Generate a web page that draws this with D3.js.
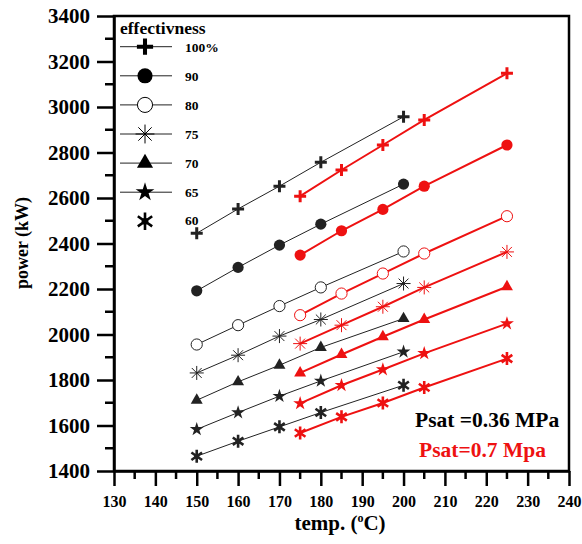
<!DOCTYPE html>
<html>
<head>
<meta charset="utf-8">
<script src="https://cdn.jsdelivr.net/npm/d3@7"></script>
<style>
  html, body { margin: 0; padding: 0; background: #fff; }
  svg text { font-family: "Liberation Serif", "Times New Roman", serif; font-weight: bold; }
</style>
</head>
<body>
<svg id="chart" width="582" height="544"></svg>
<script>
// ---- data ----
const tempLow = [150, 160, 170, 180, 200];      // Psat = 0.36 MPa
const tempHigh = [175, 185, 195, 205, 225];     // Psat = 0.7 MPa
const effLabels = ["100%", "90", "80", "75", "70", "65", "60"];
const markerKinds = ["plus", "dot", "ring", "aster", "tri", "star", "boldaster"];

const low100 = [2445, 2552, 2652, 2757, 2957];
const low90  = [2192, 2295, 2393, 2485, 2661];
const low80  = [1956, 2041, 2125, 2207, 2365];
const low75  = [1831, 1909, 1993, 2066, 2224];
const low70  = [1711, 1792, 1865, 1943, 2070];
const low65  = [1583, 1657, 1729, 1796, 1924];
const low60  = [1465, 1531, 1594, 1657, 1777];

const high100 = [2608, 2723, 2833, 2943, 3148];
const high90  = [2349, 2456, 2550, 2652, 2833];
const high80  = [2085, 2180, 2268, 2356, 2520];
const high75  = [1960, 2041, 2122, 2207, 2363];
const high70  = [1831, 1912, 1990, 2066, 2210];
const high65  = [1697, 1777, 1846, 1917, 2048];
const high60  = [1567, 1638, 1699, 1767, 1894];

const xTicks = [130, 140, 150, 160, 170, 180, 190, 200, 210, 220, 230, 240];
const xMinor = [135, 145, 155, 165, 175, 185, 195, 205, 215, 225, 235];
const yTicks = [1400, 1600, 1800, 2000, 2200, 2400, 2600, 2800, 3000, 3200, 3400];
const yMinor = [1500, 1700, 1900, 2100, 2300, 2500, 2700, 2900, 3100, 3300];

const lowSeries = [low100, low90, low80, low75, low70, low65, low60];
const highSeries = [high100, high90, high80, high75, high70, high65, high60];

// ---- layout ----
const L = 114, R = 569, T = 16, B = 471;
const RED = "#ee1111";
const svg = d3.select("#chart");
const x = d3.scaleLinear().domain([130, 240]).range([L, R]);
const y = d3.scaleLinear().domain([1400, 3400]).range([B, T]);

function drawMarker(g, kind, color, s) {
  if (kind === "plus") {
    const a = 6 * s;
    g.append("path").attr("d", `M${-a},0H${a}M0,${-a}V${a}`)
      .attr("stroke", color).attr("stroke-width", 3 * s).attr("fill", "none");
  } else if (kind === "dot") {
    g.append("circle").attr("r", 5.6 * s).attr("fill", color);
  } else if (kind === "ring") {
    g.append("circle").attr("r", 5.6 * s).attr("fill", "#fff")
      .attr("stroke", color).attr("stroke-width", 1);
  } else if (kind === "aster") {
    const a = 7 * s;
    let d = "";
    [0, 45, 90, 135].forEach(deg => {
      const r = deg * Math.PI / 180;
      d += `M${-a * Math.cos(r)},${-a * Math.sin(r)}L${a * Math.cos(r)},${a * Math.sin(r)}`;
    });
    g.append("path").attr("d", d).attr("stroke", color).attr("stroke-width", 1).attr("fill", "none");
  } else if (kind === "tri") {
    g.append("path").attr("d", d3.symbol(d3.symbolTriangle, 62 * s * s)()).attr("fill", color);
  } else if (kind === "star") {
    g.append("path").attr("d", d3.symbol(d3.symbolStar, 60 * s * s)()).attr("fill", color);
  } else if (kind === "boldaster") {
    const a = 6.5 * s;
    let d = `M0,${-a}V${a}`;
    [35, -35].forEach(deg => {
      const r = deg * Math.PI / 180;
      d += `M${-a * Math.cos(r)},${-a * Math.sin(r)}L${a * Math.cos(r)},${a * Math.sin(r)}`;
    });
    g.append("path").attr("d", d).attr("stroke", color).attr("stroke-width", 2.6).attr("fill", "none");
    g.append("circle").attr("r", 2.5 * s).attr("fill", color);
  }
}

const line = d3.line();

function drawGroup(temps, seriesList, color, width) {
  seriesList.forEach((vals, i) => {
    const pts = temps.map((t, j) => [x(t), y(vals[j])]);
    svg.append("path").attr("d", line(pts)).attr("fill", "none")
      .attr("stroke", color).attr("stroke-width", width);
    pts.forEach(p => {
      const g = svg.append("g").attr("transform", `translate(${p[0]},${p[1]})`);
      drawMarker(g, markerKinds[i], color, 1);
    });
  });
}

drawGroup(tempLow, lowSeries, "#222", 1);
drawGroup(tempHigh, highSeries, RED, 2);

// frame
svg.append("rect").attr("x", L).attr("y", T).attr("width", R - L).attr("height", B - T)
  .attr("fill", "none").attr("stroke", "#000").attr("stroke-width", 2.5);

// x axis
const xAxis = svg.append("g").attr("transform", `translate(0,${B})`)
  .call(d3.axisBottom(x).tickValues(xTicks).tickFormat(d3.format("d"))
    .tickSize(15).tickSizeOuter(0).tickPadding(10));
xAxis.select(".domain").attr("stroke-width", 2.5);
xAxis.selectAll(".tick line").attr("stroke-width", 2.5);
xAxis.selectAll(".tick text").attr("font-size", 16).attr("fill", "#000")
  .attr("font-family", "Liberation Serif").attr("font-weight", "bold");
svg.append("g").attr("transform", `translate(0,${B})`)
  .selectAll("line").data(xMinor).join("line")
  .attr("x1", d => x(d)).attr("x2", d => x(d)).attr("y1", 0).attr("y2", 8)
  .attr("stroke", "#000").attr("stroke-width", 2.5);

// y axis
const yAxis = svg.append("g").attr("transform", `translate(${L},0)`)
  .call(d3.axisLeft(y).tickValues(yTicks).tickFormat(d3.format("d"))
    .tickSize(17).tickSizeOuter(0).tickPadding(7));
yAxis.select(".domain").attr("stroke-width", 2.5);
yAxis.selectAll(".tick line").attr("stroke-width", 2.5);
yAxis.selectAll(".tick text").attr("font-size", 21).attr("fill", "#000")
  .attr("font-family", "Liberation Serif").attr("font-weight", "bold");
svg.append("g").attr("transform", `translate(${L},0)`)
  .selectAll("line").data(yMinor).join("line")
  .attr("y1", d => y(d)).attr("y2", d => y(d)).attr("x1", 0).attr("x2", -9)
  .attr("stroke", "#000").attr("stroke-width", 2.5);

// axis titles
const xt = svg.append("text").attr("x", 340).attr("y", 530).attr("text-anchor", "middle")
  .attr("font-size", 21).attr("fill", "#000");
xt.append("tspan").text("temp. (");
xt.append("tspan").text("o").attr("font-size", 12).attr("dy", -8);
xt.append("tspan").text("C)").attr("dy", 8);

svg.append("text").attr("transform", "translate(28,243) rotate(-90)")
  .attr("text-anchor", "middle").attr("font-size", 18).attr("fill", "#000")
  .text("power (kW)");

// legend
svg.append("text").attr("x", 120).attr("y", 34).attr("font-size", 17.5).attr("fill", "#000")
  .text("effectivness");
effLabels.forEach((lab, i) => {
  const cy = 46.7 + i * 29.1;
  if (i < 6) {
    svg.append("line").attr("x1", 120).attr("x2", 172).attr("y1", cy).attr("y2", cy)
      .attr("stroke", "#222").attr("stroke-width", 1);
  }
  const g = svg.append("g").attr("transform", `translate(145,${cy})`);
  drawMarker(g, markerKinds[i], "#000", 1.35);
  svg.append("text").attr("x", 185).attr("y", cy + (i === 6 ? 4 : 5))
    .attr("font-size", 13.5).attr("fill", "#000").text(lab);
});

// annotations
svg.append("text").attr("x", 415).attr("y", 427).attr("font-size", 21.5).attr("fill", "#000")
  .text("Psat =0.36 MPa");
svg.append("text").attr("x", 419).attr("y", 457).attr("font-size", 21.5).attr("fill", RED)
  .text("Psat=0.7 Mpa");
</script>
</body>
</html>
